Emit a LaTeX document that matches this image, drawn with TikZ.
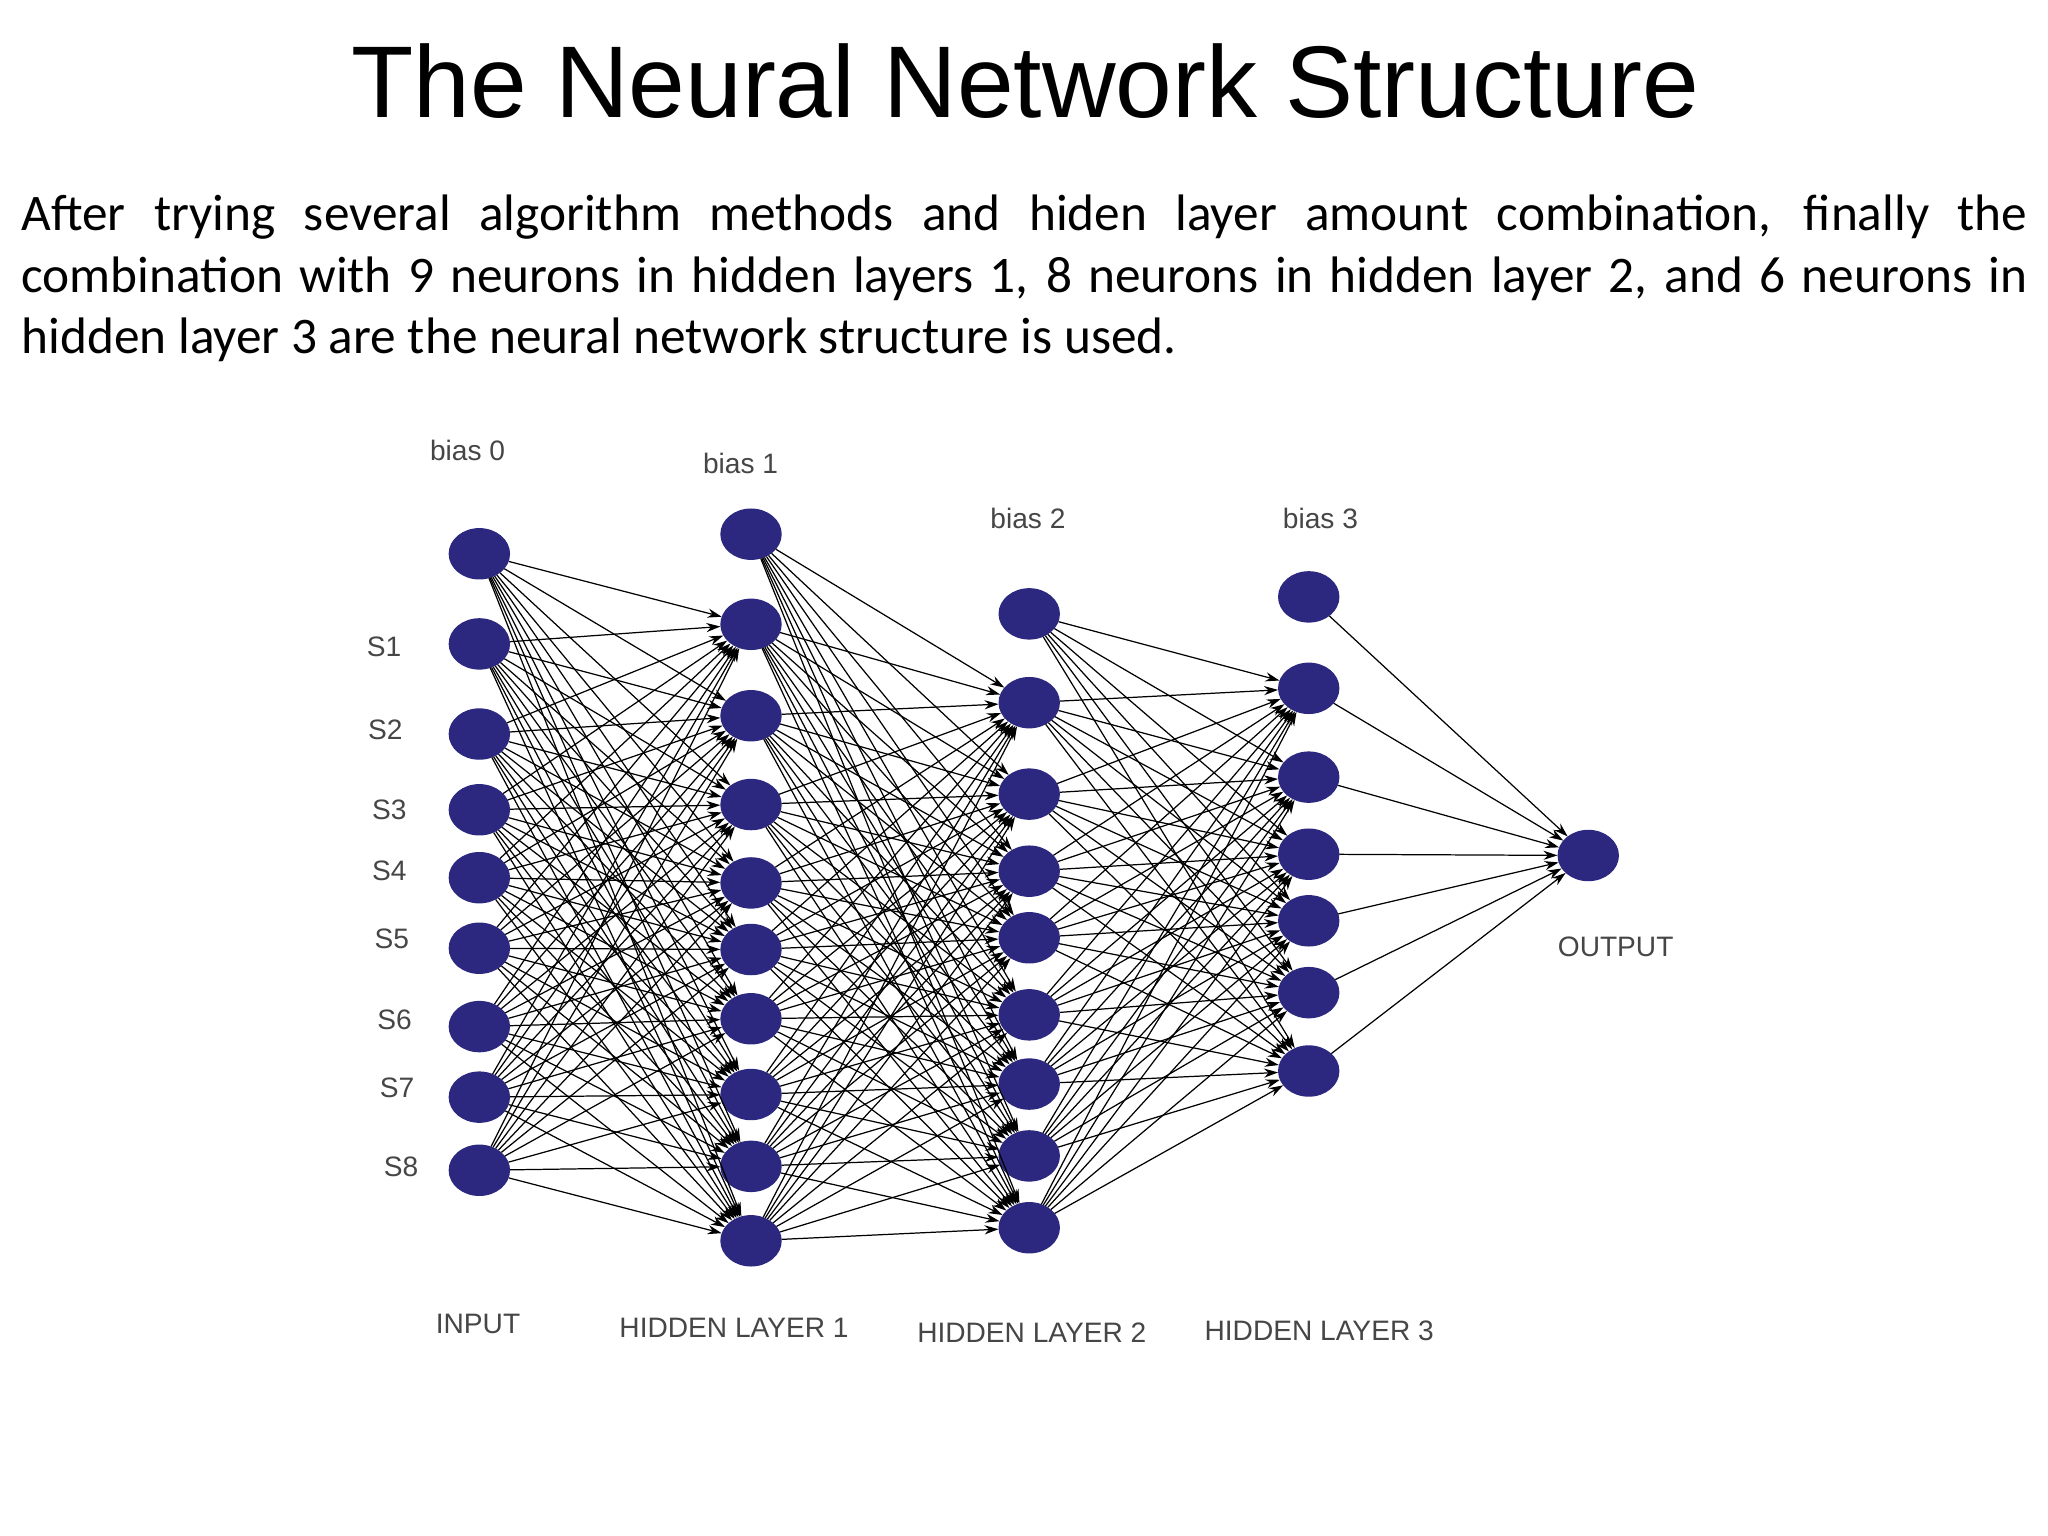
\documentclass[tikz,border=0pt]{standalone}
\usepackage{fontspec}
\setmainfont{Liberation Sans}
\newfontfamily\bodyfont{Carlito}
\usetikzlibrary{shapes.geometric,arrows.meta}
\definecolor{neuronblue}{RGB}{44,40,128}
\definecolor{labelgray}{RGB}{70,70,70}
\begin{document}
\begin{tikzpicture}[x=0.01306cm,y=-0.01306cm,
  neuron/.style={ellipse,fill=neuronblue,draw=neuronblue,minimum width=0.6cm,minimum height=0.5cm,inner sep=0pt},
  edge/.style={-{Stealth[length=4pt,width=2.6pt]},line width=0.35pt,black},
  lbl/.style={font=\fontsize{8pt}{9pt}\selectfont,text=labelgray}]
\useasboundingbox (0,0) rectangle (1568,1176);
\fill[white] (0,0) rectangle (1568,1176);
% --- title and text ---
\node[font=\fontsize{29pt}{32pt}\selectfont] (title) at (785,62) {The Neural Network Structure};
\node[anchor=north west,text width=20.06cm,align=justify,inner sep=0pt,
  font=\bodyfont\fontsize{14.6pt}{17.5pt}\selectfont] (text) at (16,149)
  {\hyphenpenalty=10000 After trying several algorithm methods and hiden layer amount combination, finally the\linebreak combination with 9 neurons in hidden layers 1, 8 neurons in hidden layer 2, and 6 neurons in\linebreak hidden layer 3 are the neural network structure is used.};
% --- neurons ---
\foreach \n/\y in {b/424,1/493,2/562,3/620,4/672,5/726,6/786,7/840,8/896}
  \node[neuron] (i\n) at (367,\y) {};
\foreach \n/\y in {b/409,1/478,2/548,3/616,4/676,5/727,6/780,7/838,8/893,9/950}
  \node[neuron] (h\n) at (575,\y) {};
\foreach \n/\y in {b/470,1/538,2/608,3/667,4/718,5/777,6/830,7/885,8/940}
  \node[neuron] (k\n) at (788,\y) {};
\foreach \n/\y in {b/457,1/527,2/595,3/654,4/705,5/760,6/820}
  \node[neuron] (m\n) at (1002,\y) {};
\node[neuron] (out) at (1216,655) {};
% --- connections ---
\foreach \a in {b,1,2,3,4,5,6,7,8}
  \foreach \b in {1,...,9}
    \draw[edge] (i\a) -- (h\b);
\foreach \a in {b,1,2,3,4,5,6,7,8,9}
  \foreach \b in {1,...,8}
    \draw[edge] (h\a) -- (k\b);
\foreach \a in {b,1,2,3,4,5,6,7,8}
  \foreach \b in {1,...,6}
    \draw[edge] (k\a) -- (m\b);
\foreach \a in {b,1,2,3,4,5,6}
  \draw[edge] (m\a) -- (out);
% --- labels ---
\node[lbl] (lb0) at (358,345) {bias 0};
\node[lbl] (lb1) at (567,355) {bias 1};
\node[lbl] (lb2) at (787,397) {bias 2};
\node[lbl] (lb3) at (1011,397) {bias 3};
\foreach \n/\x/\y in {1/294/495,2/295/559,3/298/620,4/298/667,5/300/719,6/302/781,7/304/833,8/307/893}
  \node[lbl] (s\n) at (\x,\y) {S\n};
\node[lbl] (lin) at (366,1014) {INPUT};
\node[lbl] (lh1) at (562,1017) {HIDDEN LAYER 1};
\node[lbl] (lh2) at (790,1020) {HIDDEN LAYER 2};
\node[lbl] (lh3) at (1010,1019) {HIDDEN LAYER 3};
\node[lbl] (lout) at (1237,725) {OUTPUT};
\end{tikzpicture}
\end{document}
